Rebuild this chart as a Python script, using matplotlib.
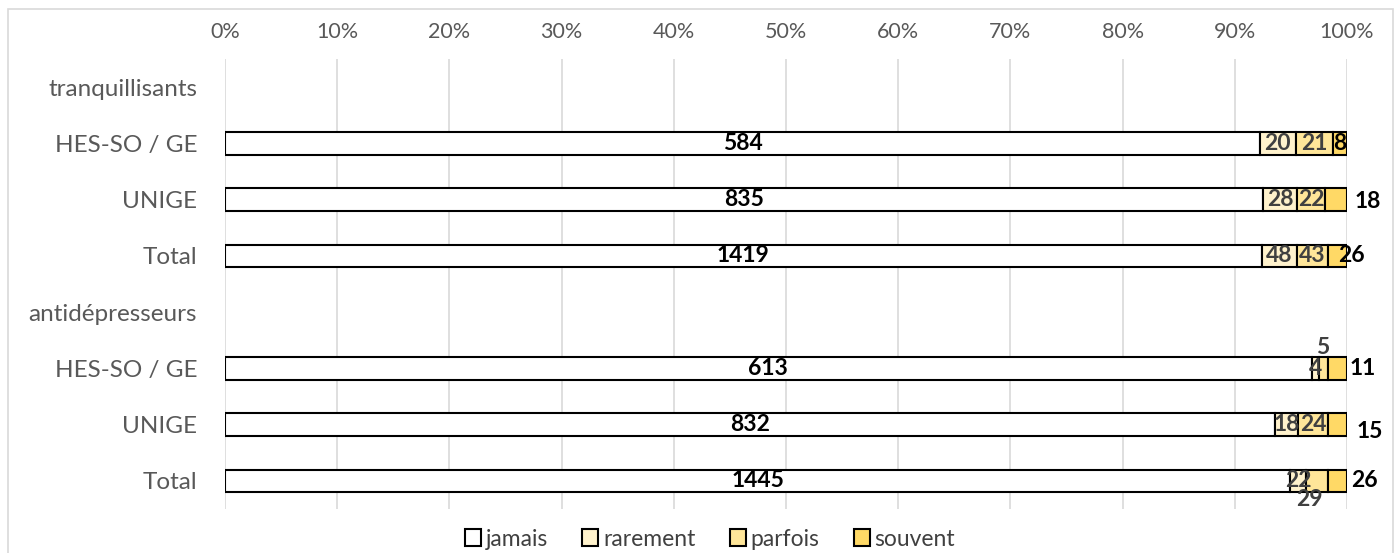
import numpy as np
import matplotlib.pyplot as plt
from matplotlib.patches import Rectangle, Patch

plt.rcParams['font.family'] = ['Lato', 'DejaVu Sans']

# rows from top to bottom, group headers have no bars
rows = ['tranquillisants', 'HES-SO / GE', 'UNIGE', 'Total',
        'antidépresseurs', 'HES-SO / GE', 'UNIGE', 'Total']
series = ['jamais', 'rarement', 'parfois', 'souvent']
jamais = [0, 584, 835, 1419, 0, 613, 832, 1445]
rarement = [0, 20, 28, 48, 0, 4, 18, 22]
parfois = [0, 21, 22, 43, 0, 5, 24, 29]
souvent = [0, 8, 18, 26, 0, 11, 15, 26]
ticks = [0, 10, 20, 30, 40, 50, 60, 70, 80, 90, 100]

colors = ['#FFFFFF', '#FFF2CC', '#FFE699', '#FFD966']
label_colors = ['black', '#404040', '#404040', 'black']
# label shifts (pixels) where the labels were pushed out of the bars
shifts = {(2, 3): (32, -2), (3, 3): (14, 0), (5, 2): (0, 21), (5, 3): (25, 0),
          (6, 3): (32, -7), (7, 2): (-8, -19), (7, 3): (27, 0)}

fig = plt.figure(figsize=(13.94, 5.53), dpi=100)
fig.patches.append(Rectangle((8 / 1394, -0.01), 1385 / 1394, 1 - 9 / 553 + 0.01,
                             transform=fig.transFigure, fill=False,
                             edgecolor='#d9d9d9', lw=1.2))
ax = fig.add_axes([225 / 1394, 1 - 509 / 553, 1122 / 1394, 450 / 553])

data = np.array([jamais, rarement, parfois, souvent], dtype=float)
tot = data.sum(axis=0)
tot[tot == 0] = 1
pct = data / tot * 100
y = np.arange(len(rows))
left = np.zeros(len(rows))
for k in range(4):
    has = data.sum(axis=0) > 0
    ax.barh(y[has], pct[k][has], left=left[has], height=0.4, color=colors[k],
            edgecolor='black', lw=1.5, zorder=3)
    for i in range(len(rows)):
        if data[k, i] == 0:
            continue
        dx, dy = shifts.get((i, k), (0, 0))
        ax.annotate(str(int(data[k, i])), (left[i] + pct[k, i] / 2, y[i]),
                    xytext=(dx, dy), textcoords='offset pixels',
                    ha='center', va='center', fontsize=16.5, fontweight='bold',
                    color=label_colors[k], zorder=4)
    left += pct[k]

ax.set_xlim(0, 100)
ax.set_ylim(len(rows) - 0.5, -0.5)
ax.set_xticks(ticks)
ax.set_xticklabels([f'{t}%' for t in ticks])
ax.xaxis.tick_top()
ax.set_yticks(y)
ax.set_yticklabels(rows)
ax.tick_params(length=0, labelcolor='#595959')
ax.tick_params(axis='x', pad=12, labelsize=15.5)
ax.tick_params(axis='y', pad=20, labelsize=17.5)
ax.grid(axis='x', color='#d9d9d9', lw=1.2, zorder=0)
for s in ax.spines.values():
    s.set_visible(False)

handles = [Patch(facecolor=c, edgecolor='black', lw=1.5) for c in colors]
fig.legend(handles, series, loc='center', bbox_to_anchor=(710 / 1394, 1 - 539 / 553),
           ncol=4, frameon=False, fontsize=16.5, handlelength=0.7, handleheight=0.7,
           handletextpad=0.2, columnspacing=1.5, labelcolor='#404040')

fig.savefig('out.png', dpi=100)
